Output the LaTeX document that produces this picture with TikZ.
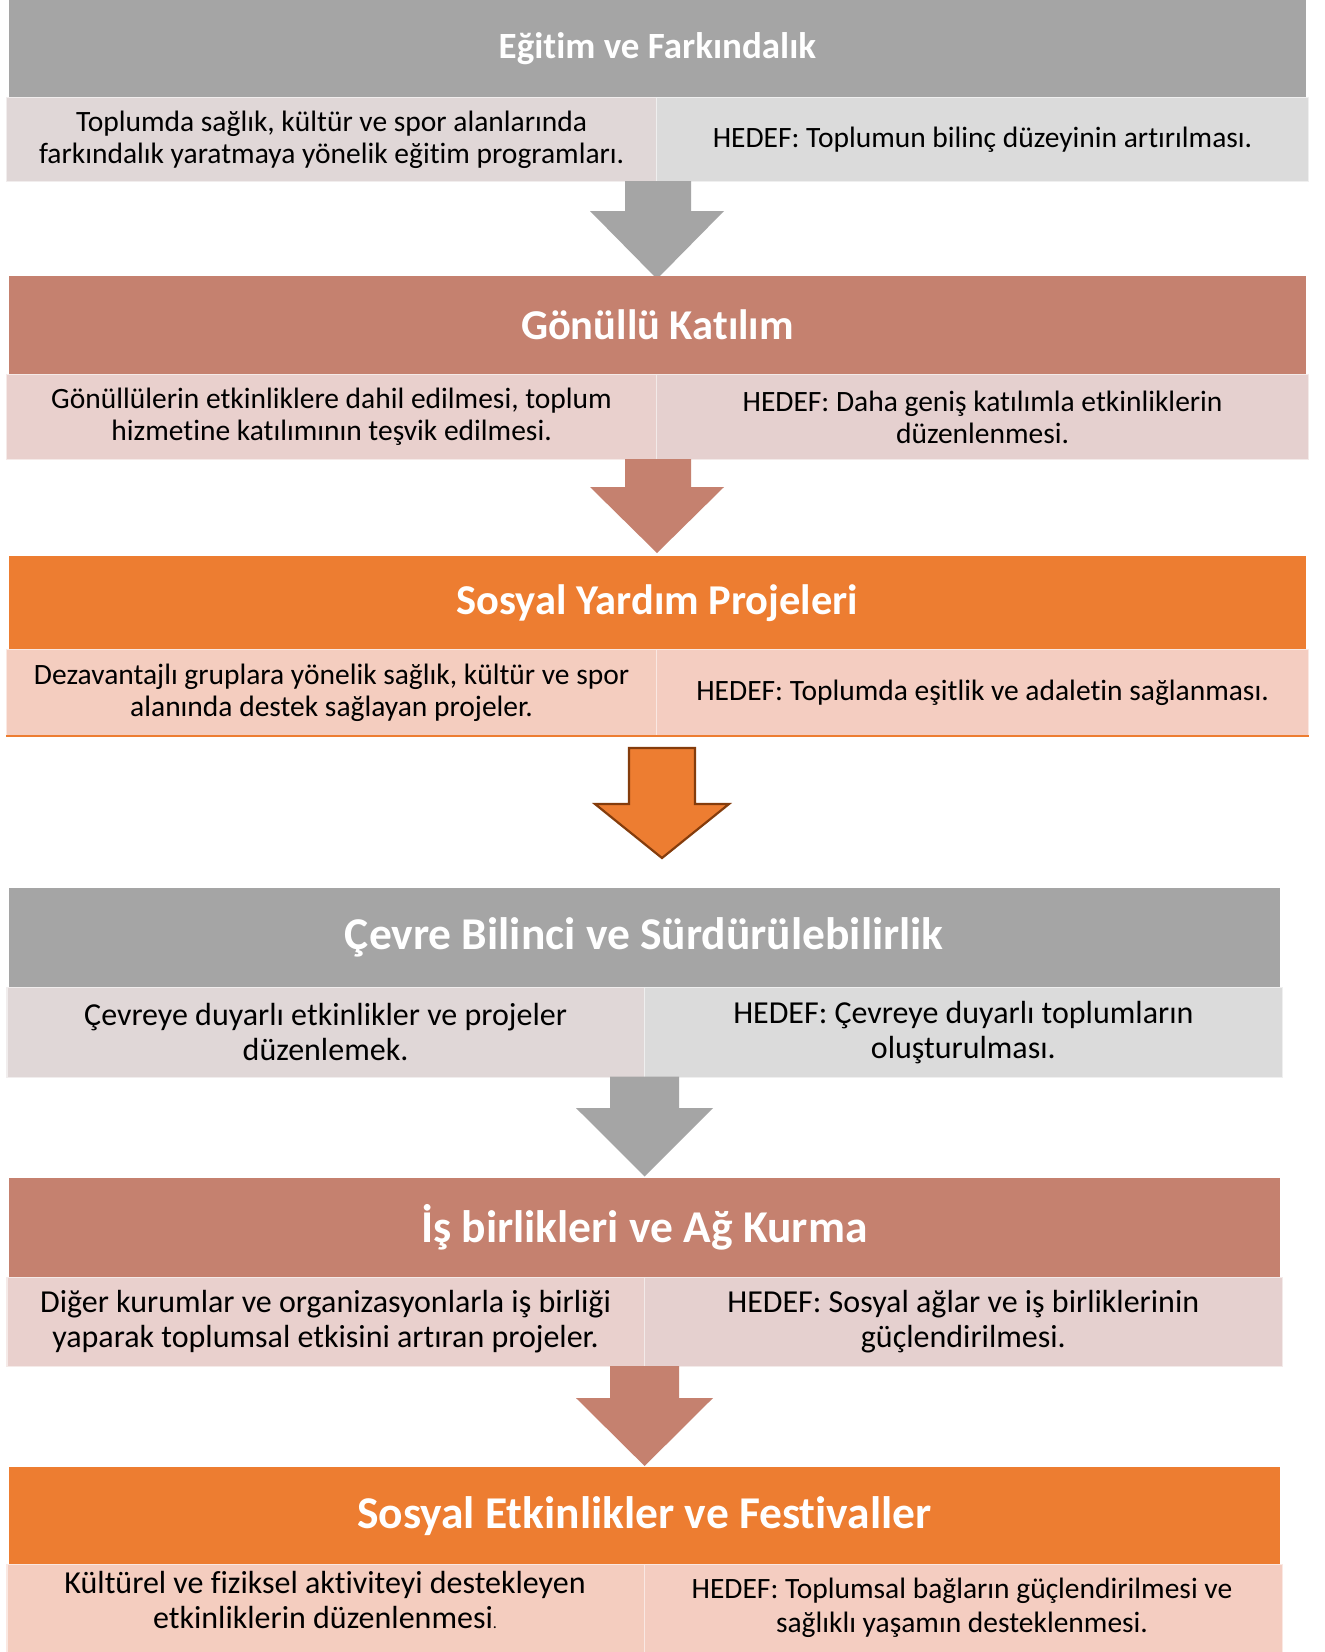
\documentclass[tikz,border=0pt]{standalone}
\usepackage{fontspec}
\setmainfont[Ligatures=NoCommon]{Carlito}
\definecolor{hgray}{HTML}{A5A5A5}
\definecolor{hsalmon}{HTML}{C5816F}
\definecolor{horange}{HTML}{ED7D31}
\definecolor{gl}{HTML}{E0D7D7}
\definecolor{gr}{HTML}{DBDBDB}
\definecolor{sl}{HTML}{E9D0CD}
\definecolor{sr}{HTML}{E5D0CF}
\definecolor{ol}{HTML}{F4CDBF}
\definecolor{orr}{HTML}{F4CDC1}
\definecolor{adark}{HTML}{843C0C}
\begin{document}
\begin{tikzpicture}[x=1pt,y=-1pt,
  hdr/.style={rectangle,inner sep=0pt,anchor=north west,text=white},
  tA/.style={font=\bfseries\fontsize{37}{44}\selectfont},
  tB/.style={font=\bfseries\fontsize{42.5}{48}\selectfont},
  tC/.style={font=\bfseries\fontsize{45.5}{50}\selectfont},
  sub/.style={rectangle,inner sep=0pt,anchor=north west,draw=white!55!#1,fill=#1,line width=1.2pt,align=center,text=black},
  bodyA/.style={font=\fontsize{29.5}{32}\selectfont},
  bodyB/.style={font=\fontsize{32}{35}\selectfont},
  bodyC/.style={font=\fontsize{29.5}{34.5}\selectfont}
]
\fill[white] (0,0) rectangle (1325,1652);
\clip (0,0) rectangle (1325,1652);
% Section 1
\node[hdr,fill=hgray,minimum width=1297.6pt,minimum height=97pt,tA] (h1) at (8.4,0) {Eğitim ve Farkındalık};
\node[sub=gl,minimum width=650pt,minimum height=84pt,bodyA] (l1) at (6,97) {Toplumda sağlık, kültür ve spor alanlarında\\farkındalık yaratmaya yönelik eğitim programları.};
\node[sub=gr,minimum width=652pt,minimum height=84pt,bodyA] (r1) at (656,97) {HEDEF: Toplumun bilinç düzeyinin artırılması.};
\fill[hgray] (625,181) -- (691,181) -- (691,211) -- (724,211) -- (657,279) -- (590,211) -- (625,211) -- cycle;
% Section 2
\node[hdr,fill=hsalmon,minimum width=1297.6pt,minimum height=98pt,tB] (h2) at (8.4,276) {Gönüllü Katılım};
\node[sub=sl,minimum width=650pt,minimum height=85pt,bodyA,yshift=-2pt] (l2) at (6,372) {Gönüllülerin etkinliklere dahil edilmesi, toplum\\hizmetine katılımının teşvik edilmesi.};
\node[sub=sr,minimum width=652pt,minimum height=85pt,bodyA,yshift=-2pt] (r2) at (656,372) {HEDEF: Daha geniş katılımla etkinliklerin\\düzenlenmesi.};
\fill[hsalmon] (625,459) -- (691,459) -- (691,487) -- (724,487) -- (657,553) -- (590,487) -- (625,487) -- cycle;
% Section 3
\node[hdr,fill=horange,minimum width=1297.6pt,minimum height=93pt,tB] (h3) at (8.4,556) {\raisebox{-4pt}{Sosyal Yardım Projeleri}};
\node[sub=ol,minimum width=650pt,minimum height=86pt,bodyA] (l3) at (6,649) {Dezavantajlı gruplara yönelik sağlık, kültür ve spor\\alanında destek sağlayan projeler.};
\node[sub=orr,minimum width=652pt,minimum height=86pt,bodyA] (r3) at (656,649) {HEDEF: Toplumda eşitlik ve adaletin sağlanması.};
\draw[horange,line width=1.5pt] (l3.south west) -- (r3.south east);
\filldraw[fill=horange,draw=adark,line width=2.2pt,line join=miter] (629,748) -- (695,748) -- (695,804) -- (729,804) -- (662,858) -- (595,804) -- (629,804) -- cycle;
% Section 4
\node[hdr,fill=hgray,minimum width=1271.4pt,minimum height=99pt,tC] (h4) at (8.4,888) {Çevre Bilinci ve Sürdürülebilirlik};
\node[sub=gl,minimum width=637.3pt,minimum height=89.5pt,bodyB] (l4) at (6.3,987) {Çevreye duyarlı etkinlikler ve projeler\\düzenlemek.};
\node[sub=gr,minimum width=638.3pt,minimum height=89.5pt,bodyB] (r4) at (643.6,987) {HEDEF: Çevreye duyarlı toplumların\\oluşturulması.};
\fill[hgray] (610,1076.5) -- (679,1076.5) -- (679,1108) -- (713,1108) -- (644.6,1176.5) -- (576,1108) -- (610,1108) -- cycle;
% Section 5
\node[hdr,fill=hsalmon,minimum width=1271.4pt,minimum height=99pt,tC] (h5) at (8.4,1177.6) {İş birlikleri ve Ağ Kurma};
\node[sub=sl,minimum width=637.3pt,minimum height=89.5pt,bodyB] (l5) at (6.3,1276.6) {Diğer kurumlar ve organizasyonlarla iş birliği\\yaparak toplumsal etkisini artıran projeler.};
\node[sub=sr,minimum width=638.3pt,minimum height=89.5pt,bodyB] (r5) at (643.6,1276.6) {HEDEF: Sosyal ağlar ve iş birliklerinin\\güçlendirilmesi.};
\fill[hsalmon] (610,1366) -- (679,1366) -- (679,1398) -- (713,1398) -- (644.6,1466) -- (576,1398) -- (610,1398) -- cycle;
% Section 6
\node[hdr,fill=horange,minimum width=1271.4pt,minimum height=97pt,tC] (h6) at (8.4,1467) {\raisebox{-4pt}{Sosyal Etkinlikler ve Festivaller}};
\node[sub=ol,minimum width=637.3pt,minimum height=110pt] (l6) at (6.3,1564) {};
\node[sub=orr,minimum width=638.3pt,minimum height=110pt] (r6) at (643.6,1564) {};
\node[bodyB,align=center,inner sep=0pt] (t6l) at (325,1600) {Kültürel ve fiziksel aktiviteyi destekleyen\\etkinliklerin düzenlenmesi{\fontsize{16}{16}\selectfont .}};
\node[bodyC,align=center,inner sep=0pt] (t6r) at (962,1608) {HEDEF: Toplumsal bağların güçlendirilmesi ve\\sağlıklı yaşamın desteklenmesi.};
\end{tikzpicture}
\end{document}
